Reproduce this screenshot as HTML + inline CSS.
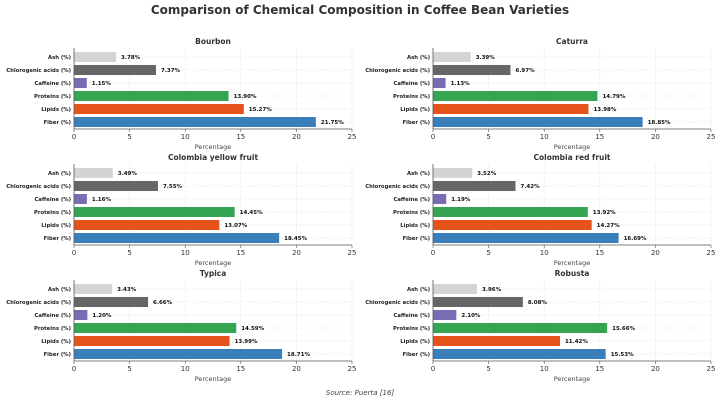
<!DOCTYPE html>
<html><head><meta charset="utf-8"><style>
body{margin:0;background:#fff;font-family:"DejaVu Sans","Liberation Sans",sans-serif;}
#c{position:relative;width:720px;height:400px;overflow:hidden}
</style></head><body>
<div id="c">
<svg id="s" width="720" height="400" xmlns="http://www.w3.org/2000/svg">
<text x="360" y="14" text-anchor="middle" font-size="12" font-weight="bold" fill="#333">Comparison of Chemical Composition in Coffee Bean Varieties</text>
<text x="360" y="395" text-anchor="middle" font-size="7" font-style="italic" fill="#444">Source: Puerta [16]</text>
</svg></div>
<script>
const varieties=["Bourbon","Caturra","Colombia yellow fruit","Colombia red fruit","Typica","Robusta"];
const components=["Ash (%)","Chlorogenic acids (%)","Caffeine (%)","Proteins (%)","Lipids (%)","Fiber (%)"];
const ash=[3.78,3.39,3.49,3.52,3.43,3.96];
const chlorogenic=[7.37,6.97,7.55,7.42,6.66,8.08];
const caffeine=[1.15,1.13,1.16,1.19,1.20,2.10];
const proteins=[13.90,14.79,14.45,13.92,14.59,15.66];
const lipids=[15.27,13.98,13.07,14.27,13.99,11.42];
const fiber=[21.75,18.85,18.45,16.69,18.71,15.53];
const xTicks=[0,5,10,15,20,25];
const colors=["#d4d4d4","#666666","#7a6bb5","#35a453","#e5531a","#3a7eba"];
const series=[ash,chlorogenic,caffeine,proteins,lipids,fiber];
const svg=document.getElementById('s');
const NS="http://www.w3.org/2000/svg";
function mk(t,a,p){const e=document.createElementNS(NS,t);for(const k in a)e.setAttribute(k,a[k]);(p||svg).appendChild(e);return e;}
varieties.forEach((v,i)=>{
  const col=i%2,row=Math.floor(i/2);
  const x0=col?433:74,x1=col?711:352,top=48+row*116,bot=129+row*116;
  const xs=val=>x0+(x1-x0)*val/25;
  const yc=j=>top+9+j*13;
  const g=mk('g',{});
  
  
  xTicks.forEach(t=>{
    const l=mk('line',{x1:xs(t),x2:xs(t),y1:top,y2:bot,stroke:'#e4e4e4','stroke-width':0.6,'stroke-dasharray':'2,1'},g);
    
    const tl=mk('line',{x1:xs(t),x2:xs(t),y1:bot,y2:bot+3,stroke:'#555','stroke-width':0.6},g);
    
    const tx=mk('text',{x:xs(t),y:bot+10,'text-anchor':'middle','font-size':7,fill:'#333'},g);
    tx.textContent=t;
  });
  components.forEach((c,j)=>{
    const gl=mk('line',{x1:x0,x2:x1,y1:yc(j),y2:yc(j),stroke:'#e4e4e4','stroke-width':0.6,'stroke-dasharray':'2,1'},g);
    
    const val=series[j][i];
    const r=mk('rect',{x:x0,y:yc(j)-5,width:xs(val)-x0,height:10,fill:colors[j]},g);
    
    const lt=mk('text',{x:x0-3,y:yc(j)+2,'text-anchor':'end','font-size':5.3,'font-weight':'bold',fill:'#222'},g);
    lt.textContent=c;
    const vt=mk('text',{x:xs(val)+5,y:yc(j)+2,'font-size':5.5,'font-weight':'bold',fill:'#111'},g);
    vt.textContent=val.toFixed(2)+'%';
  });
  const ax=mk('line',{x1:x0,x2:x1,y1:bot,y2:bot,stroke:'#555','stroke-width':0.8},g);
  
  const ay=mk('line',{x1:x0,x2:x0,y1:top,y2:bot,stroke:'#555','stroke-width':0.8},g);
  
  const tt=mk('text',{x:(x0+x1)/2,y:top-4,'text-anchor':'middle','font-size':7.5,'font-weight':'bold',fill:'#333'},g);
  tt.textContent=v;
  const xl=mk('text',{x:(x0+x1)/2,y:bot+20,'text-anchor':'middle','font-size':6.5,fill:'#444'},g);
  xl.textContent='Percentage';
});
</script>
</body></html>
